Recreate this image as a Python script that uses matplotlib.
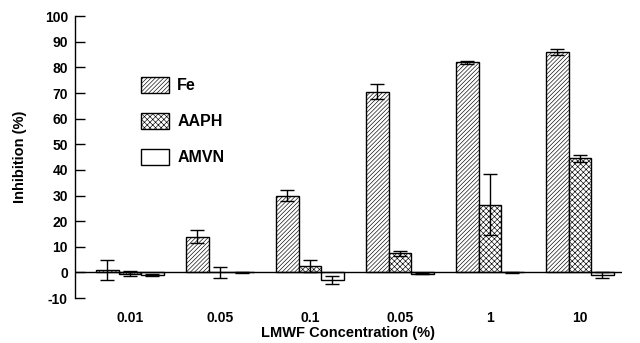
import numpy as np
import matplotlib.pyplot as plt

plt.rcParams['font.family'] = ['Liberation Sans', 'DejaVu Sans']
plt.rcParams['font.weight'] = 'bold'
plt.rcParams['hatch.linewidth'] = 0.45
plt.rcParams['axes.unicode_minus'] = False

categories = ['0.01', '0.05', '0.1', '0.05', '1', '10']
fe = [1, 14, 30, 70.5, 82, 86]
fe_err = [4, 2.5, 2, 3, 0.5, 1]
aaph = [-0.5, 0, 2.5, 7.5, 26.5, 44.5]
aaph_err = [1, 2, 2.5, 1, 12, 1.5]
amvn = [-1, 0, -3, -0.5, 0, -1]
amvn_err = [0.5, 0.3, 1.5, 0.3, 0.2, 1]

fig = plt.figure(figsize=(6.4, 3.43), dpi=100)
ax = fig.add_axes([0.117, 0.131, 0.855, 0.822])

x = np.arange(len(categories))
w = 0.25
ekw = dict(ecolor='black', elinewidth=1.0, capsize=5, capthick=1.0)
b1 = ax.bar(x - w, fe, w, yerr=fe_err, color='white', edgecolor='black',
            linewidth=1.0, hatch='////////', label='Fe', error_kw=ekw)
b2 = ax.bar(x, aaph, w, yerr=aaph_err, color='white', edgecolor='black',
            linewidth=1.0, hatch='xxxxxx', label='AAPH', error_kw=ekw)
b3 = ax.bar(x + w, amvn, w, yerr=amvn_err, color='white', edgecolor='black',
            linewidth=1.0, label='AMVN', error_kw=ekw)

ax.axhline(0, color='black', linewidth=1.0)
ax.set_xlim(-0.61, 5.47)
ax.set_ylim(-10, 100)
ax.set_yticks(range(-10, 101, 10))
ax.set_xticks(x)
ax.set_xticklabels(categories)
ax.tick_params(axis='x', length=0, pad=9, labelsize=10)
ax.tick_params(axis='y', direction='in', length=7, width=1, labelsize=10, pad=5)
for s in ['top', 'right', 'bottom']:
    ax.spines[s].set_visible(False)
ax.spines['left'].set_linewidth(1.0)

ax.set_ylabel('Inhibition (%)', fontsize=10.5, fontweight='bold', labelpad=13)
ax.set_xlabel('LMWF Concentration (%)', fontsize=10.5, fontweight='bold', labelpad=1)

leg = ax.legend(handles=[b1, b2, b3], loc='upper left', bbox_to_anchor=(0.095, 0.835),
                frameon=False, handlelength=1.75, handleheight=1.15,
                labelspacing=1.22, fontsize=11.5, handletextpad=0.5)
for t in leg.get_texts():
    t.set_fontweight('bold')

fig.savefig('out.png', dpi=100)
